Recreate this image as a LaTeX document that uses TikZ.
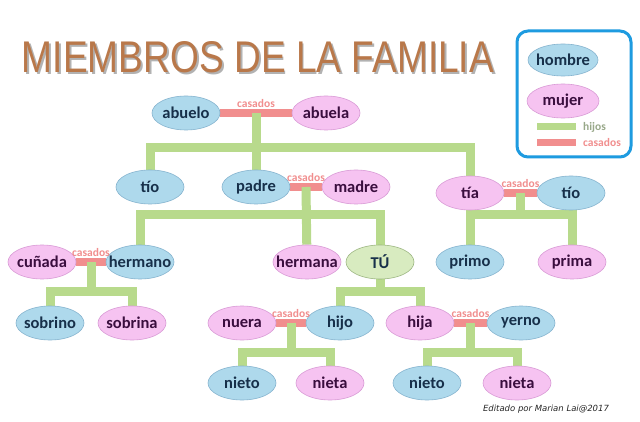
\documentclass[tikz,border=0pt]{standalone}
\usepackage{fontspec}
\setmainfont{Carlito}
\newfontfamily\titulofont{Liberation Sans}
\newfontfamily\firmafont{DejaVu Sans}
\usetikzlibrary{shapes.geometric,positioning,backgrounds,calc}

\definecolor{azulH}{HTML}{AED9EC}
\definecolor{bordeH}{HTML}{86B4CF}
\definecolor{tintaH}{HTML}{17304A}
\definecolor{rosaM}{HTML}{F6C3F1}
\definecolor{bordeM}{HTML}{D99BD6}
\definecolor{tintaM}{HTML}{3A0E3E}
\definecolor{verdeTu}{HTML}{D8EBC0}
\definecolor{bordeTu}{HTML}{9DB783}
\definecolor{verde}{HTML}{B8DA8C}
\definecolor{rosa}{HTML}{F18E8E}
\definecolor{grisVerde}{HTML}{98A889}
\definecolor{marron}{HTML}{B9784A}
\definecolor{azulCaja}{HTML}{1E9BE0}

\newcommand{\titulo}{\resizebox{472pt}{31pt}{\titulofont MIEMBROS DE LA FAMILIA}}

\tikzset{
  persona/.style={ellipse, draw, line width=0.6pt, minimum width=68pt,
    minimum height=34pt, inner xsep=-9pt, inner ysep=0pt,
    font=\fontsize{16.5}{18}\selectfont\bfseries},
  hombre/.style={persona, fill=azulH, draw=bordeH, text=tintaH},
  mujer/.style={persona, fill=rosaM, draw=bordeM, text=tintaM},
  yo/.style={persona, fill=verdeTu, draw=bordeTu, text=tintaH},
  hijos/.style={line width=9pt, draw=verde},
  casados/.style={line width=8pt, draw=rosa},
  casadostxt/.style={font=\fontsize{11.5}{12}\selectfont\bfseries, text=rosa, inner sep=0pt},
}

\begin{document}
\begin{tikzpicture}[x=1pt,y=-1pt]
    \useasboundingbox (0,0) rectangle (640,422);

    % Titulo con sombra
    \node (titulo) at (258,58) {\makebox[0pt][l]{\color{gray!60}\raisebox{-1.8pt}{\hspace{1.8pt}\titulo}}\color{marron}\titulo};

    % Abuelos
    \node[hombre] (abuelo) at (186,113) {abuelo};
    \node[mujer] (abuela) at (326,113) {abuela};

    % Padres, tios
    \node[hombre] (tio) at (150,187) {tío};
    \node[hombre] (padre) at (256,187) {padre};
    \node[mujer] (madre) at (356,187) {madre};
    \node[mujer] (tia) at (470,193) {tía};
    \node[hombre] (tioP) at (571,193) {tío};

    % Hermanos, primos
    \node[mujer] (cunada) at (42,262) {cuñada};
    \node[hombre] (hermano) at (140,262) {hermano};
    \node[mujer] (hermana) at (307,262) {hermana};
    \node[yo] (tu) at (380,262) {TÚ};
    \node[hombre] (primo) at (470,262) {primo};
    \node[mujer] (prima) at (572,262) {prima};

    % Sobrinos, hijos
    \node[hombre] (sobrino) at (50,323) {sobrino};
    \node[mujer] (sobrina) at (132,323) {sobrina};
    \node[mujer] (nuera) at (242,323) {nuera};
    \node[hombre] (hijo) at (340,323) {hijo};
    \node[mujer] (hija) at (420,323) {hija};
    \node[hombre] (yerno) at (521,323) {yerno};

    % Nietos
    \node[hombre] (nieto) at (242,383) {nieto};
    \node[mujer] (nieta) at (330,383) {nieta};
    \node[hombre] (nietoB) at (427,383) {nieto};
    \node[mujer] (nietaB) at (517,383) {nieta};

    % Filas de las ramas
    \coordinate (f1) at (0,148);
    \coordinate (f2) at (0,215);
    \coordinate (f3) at (0,291);
    \coordinate (f4) at (0,352);

    \begin{scope}[on background layer]
        \fill[white] (0,0) rectangle (640,422);

        % Matrimonios
        \draw[casados] (abuelo) -- coordinate[midway] (cas1) (abuela);
        \draw[casados] (padre) -- coordinate[midway] (cas2) (madre);
        \draw[casados] (tia) -- coordinate[midway] (cas3) (tioP);
        \draw[casados] (cunada) -- coordinate[midway] (cas4) (hermano);
        \draw[casados] (nuera) -- coordinate[midway] (cas5) (hijo);
        \draw[casados] (hija) -- coordinate[midway] (cas6) (yerno);

        % Hijos de los abuelos
        \draw[hijos] (cas1) -- (padre);
        \draw[hijos] (tio) -- (tio |- f1) -- (tia |- f1) -- (tia);

        % Hijos de los padres
        \draw[hijos] (cas2) -- (hermana);
        \draw[hijos] (hermano) -- (hermano |- f2) -- (tu |- f2) -- (tu);

        % Hijos de los tios
        \draw[hijos] (cas3) -- (cas3 |- f2);
        \draw[hijos] (primo) -- (primo |- f2) -- (prima |- f2) -- (prima);

        % Sobrinos
        \draw[hijos] (cas4) -- (cas4 |- f3);
        \draw[hijos] (sobrino) -- (sobrino |- f3) -- (sobrina |- f3) -- (sobrina);

        % Tus hijos
        \draw[hijos] (tu) -- (tu |- f3);
        \draw[hijos] (hijo) -- (hijo |- f3) -- (hija |- f3) -- (hija);

        % Nietos
        \draw[hijos] (cas5) -- (cas5 |- f4);
        \draw[hijos] (nieto) -- (nieto |- f4) -- (nieta |- f4) -- (nieta);
        \draw[hijos] (cas6) -- (cas6 |- f4);
        \draw[hijos] (nietoB) -- (nietoB |- f4) -- (nietaB |- f4) -- (nietaB);
    \end{scope}

    % Etiquetas casados
    \node[casadostxt, above=5pt of cas1] (t1) {casados};
    \node[casadostxt, above=5pt of cas2] (t2) {casados};
    \node[casadostxt, above=5pt of cas3] (t3) {casados};
    \node[casadostxt, above=5pt of cas4] (t4) {casados};
    \node[casadostxt, above=5pt of cas5] (t5) {casados};
    \node[casadostxt, above=5pt of cas6] (t6) {casados};

    % Leyenda
    \draw[azulCaja, line width=3pt, rounded corners=11pt] (517,31) rectangle (631,157);
    \node[hombre, minimum width=70pt, minimum height=32pt] (lhombre) at (563,60) {hombre};
    \node[mujer, minimum width=72pt, minimum height=34pt] (lmujer) at (563,101) {mujer};
    \draw[hijos, line width=7pt] (537,127) -- (576,127);
    \draw[casados, line width=7pt] (537,143) -- (576,143);
    \node[casadostxt, text=grisVerde, anchor=west] (lhijos) at (583,127) {hijos};
    \node[casadostxt, anchor=west] (lcasados) at (583,143) {casados};

    % Firma
    \node[font=\firmafont\itshape\fontsize{8.5}{10}\selectfont, text=black!85] (firma) at (546,409) {Editado por Marian Lai@2017};
\end{tikzpicture}
\end{document}
